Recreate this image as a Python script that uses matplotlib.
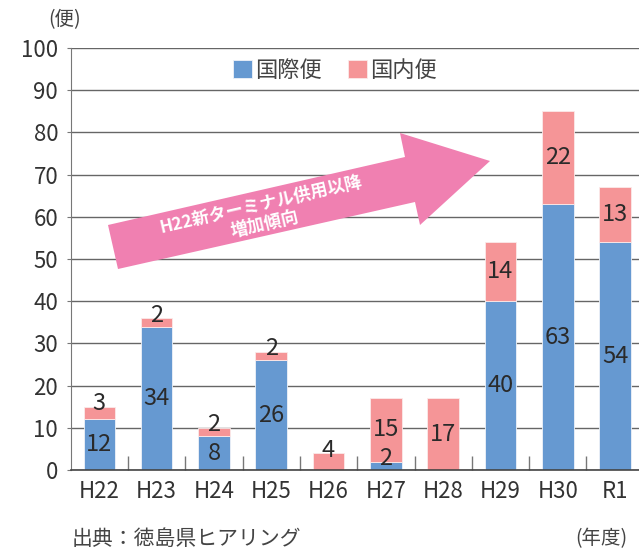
import matplotlib
matplotlib.use("Agg")
import matplotlib.pyplot as plt
from matplotlib.patches import Polygon
import numpy as np

plt.rcParams['font.family'] = ['Noto Sans CJK JP', 'DejaVu Sans']

years = ["H22", "H23", "H24", "H25", "H26", "H27", "H28", "H29", "H30", "R1"]
intl = [12, 34, 8, 26, 0, 2, 0, 40, 63, 54]      # 国際便
domestic = [3, 2, 2, 2, 4, 15, 17, 14, 22, 13]   # 国内便

blue = "#6699D1"
pink = "#F59597"
arrow_pink = "#F080B1"
txt = "#333333"

W, H = 639, 551
fig = plt.figure(figsize=(W / 100, H / 100), dpi=100)
ax = fig.add_axes([70.7 / W, 1 - 470 / H, 1 - 70.7 / W, (470 - 48) / H])

x = np.arange(len(years))
bw = 0.55
b1 = ax.bar(x, intl, bw, color=blue, edgecolor="#eef2f8", linewidth=0.6, zorder=3, label="国際便")
b2 = ax.bar(x, domestic, bw, bottom=intl, color=pink, edgecolor="#fbeaea", linewidth=0.6, zorder=3, label="国内便")

# value labels, small segments get the label just over their top
for i in range(len(years)):
    for bottom, v in ((0, intl[i]), (intl[i], domestic[i])):
        if v == 0:
            continue
        if v < 5:
            y = bottom + v + 0.7
        else:
            y = bottom + v / 2
        ax.text(x[i], y, str(v), ha="center", va="center", fontsize=17, color="#2a2a2a", zorder=4)

ax.set_xlim(-0.5, (W - 70.7) / 57.3 - 0.5)
ax.set_ylim(0, 100)
ax.set_yticks(np.arange(0, 101, 10))
ax.set_xticks(x)
ax.set_xticklabels(years)
ax.set_xticks(x[:-1] + 0.5, minor=True)
ax.tick_params(axis="x", which="major", length=0, labelsize=16, labelcolor=txt, pad=7)
ax.tick_params(axis="x", which="minor", direction="in", length=10, color="#777777", width=1)
ax.tick_params(axis="y", length=3, color="#777777", labelsize=16, labelcolor=txt, pad=6)
ax.grid(axis="y", color="#666666", linewidth=1, zorder=1)

for s in ("top", "right"):
    ax.spines[s].set_visible(False)
ax.spines["left"].set_color("#777777")
ax.spines["bottom"].set_color("#444444")
ax.spines["bottom"].set_linewidth(1.2)
ax.spines["bottom"].set_zorder(5)

leg = ax.legend(loc="center", bbox_to_anchor=((335 - 70.7) / (W - 70.7), (470 - 70) / 422),
                ncol=2, frameon=False, fontsize=16, handlelength=0.85, handleheight=0.85,
                handletextpad=0.15, columnspacing=1.2, borderaxespad=0)
for t in leg.get_texts():
    t.set_color("#444444")

# trend arrow (figure pixel outline)
pts = [(118, 269), (108, 225), (405, 157), (400, 133), (490, 161), (420, 225), (415, 202)]
poly = Polygon([(px / W, 1 - py / H) for px, py in pts], closed=True,
               facecolor=arrow_pink, edgecolor="none", transform=fig.transFigure, zorder=6)
fig.patches.append(poly)
fig.text(263 / W, 1 - 215 / H, "H22新ターミナル供用以降\n増加傾向", rotation=13,
         rotation_mode="anchor", ha="center", va="center", fontsize=12.5, fontweight="bold",
         color="white", linespacing=1.15, zorder=7)

fig.text(48 / W, 1 - 20 / H, "(便)", ha="left", va="center", fontsize=14, color="#444444")
fig.text(72 / W, 1 - 539 / H, "出典：徳島県ヒアリング", ha="left", va="center", fontsize=15, color="#444444")
fig.text(627 / W, 1 - 539 / H, "(年度)", ha="right", va="center", fontsize=14, color="#444444")

fig.savefig("out.png", dpi=100)
